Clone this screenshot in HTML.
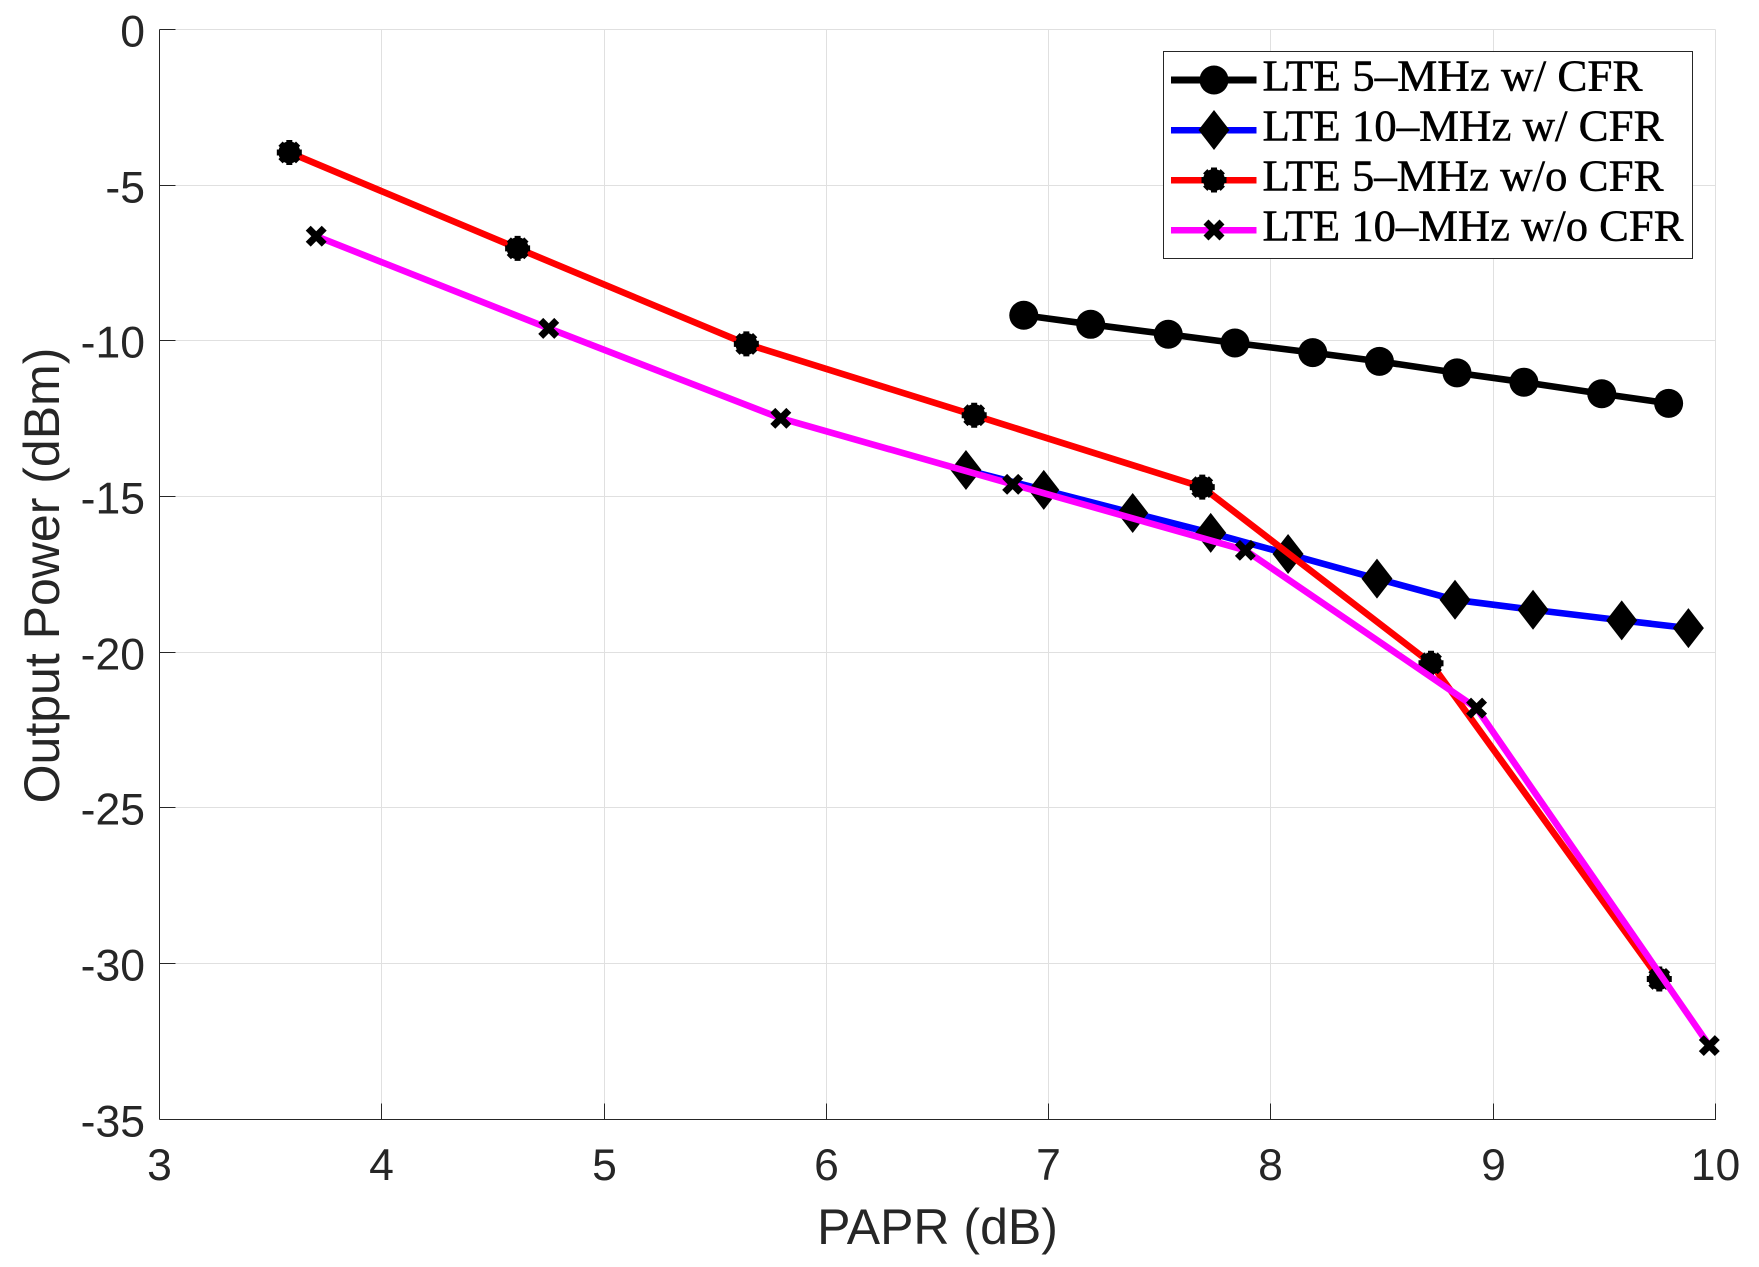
<!DOCTYPE html>
<html lang="en">
<head>
<meta charset="utf-8">
<title>Output Power vs PAPR</title>
<style>
  html, body { margin: 0; padding: 0; background: #fff; width: 1759px; height: 1267px; overflow: hidden; }
  svg { display: block; }
  text { font-family: "Liberation Sans", sans-serif; fill: #262626; }
  .tick-label { font-size: 44.5px; }
  .axis-title { font-size: 50px; }
  .legend-text { font-family: "Liberation Serif", serif; font-size: 44px; fill: #000; stroke: #000; stroke-width: 0.5px; }
</style>
</head>
<body>
<svg id="chart" xmlns="http://www.w3.org/2000/svg" width="1759" height="1267" viewBox="0 0 1759 1267"></svg>
<script>
const xTicks = [3, 4, 5, 6, 7, 8, 9, 10];
const yTicks = [0, -5, -10, -15, -20, -25, -30, -35];

const lte5CfrX = [6.888, 7.189, 7.538, 7.838, 8.188, 8.488, 8.837, 9.138, 9.488, 9.789];
const lte5CfrY = [-9.18, -9.47, -9.79, -10.07, -10.38, -10.66, -11.03, -11.33, -11.70, -12.01];

const lte10CfrX = [6.628, 6.978, 7.378, 7.729, 8.077, 8.477, 8.828, 9.179, 9.578, 9.878];
const lte10CfrY = [-14.15, -14.79, -15.53, -16.17, -16.85, -17.64, -18.32, -18.64, -18.98, -19.23];

const lte5NoCfrX = [3.584, 4.611, 5.640, 6.665, 7.691, 8.720, 9.747];
const lte5NoCfrY = [-3.95, -7.03, -10.10, -12.39, -14.70, -20.36, -30.50];

const lte10NoCfrX = [3.705, 4.751, 5.795, 6.838, 7.885, 8.925, 9.972];
const lte10NoCfrY = [-6.64, -9.60, -12.49, -14.61, -16.73, -21.80, -32.64];

const legendLabels = ["LTE 5\u2013MHz w/ CFR", "LTE 10\u2013MHz w/ CFR", "LTE 5\u2013MHz w/o CFR", "LTE 10\u2013MHz w/o CFR"];

const NS = "http://www.w3.org/2000/svg";
const svg = document.getElementById("chart");
const X0 = 159.5, XUNIT = 222.29, Y0 = 29.5, YUNIT = 31.13;
function xScale(v) { return X0 + (v - 3) * XUNIT; }
function yScale(v) { return Y0 - v * YUNIT; }
function crisp(p) { return Math.floor(p) + 0.5; }

function make(tag, parent, attrs) {
  const el = document.createElementNS(NS, tag);
  for (const k in attrs) el.setAttribute(k, attrs[k]);
  parent.appendChild(el);
  return el;
}

const left = xScale(3), right = crisp(xScale(10)), top_ = crisp(yScale(0)), bottom = crisp(yScale(-35));

/* grid */
const gridGroup = make("g", svg, { stroke: "#e0e0e0", "stroke-width": 1, "shape-rendering": "crispEdges" });


xTicks.forEach(function (t) {
  const px = crisp(xScale(t));
  const g = make("line", gridGroup, { x1: px, x2: px, y1: top_, y2: bottom });
  
  
});
yTicks.forEach(function (t) {
  const py = crisp(yScale(t));
  const g = make("line", gridGroup, { x1: left, x2: right, y1: py, y2: py });
  
  
});

/* axes */
const axisGroup = make("g", svg, { stroke: "#262626", "stroke-width": 1, "shape-rendering": "crispEdges" });


const xAxisLine = make("line", axisGroup, { x1: left, x2: right + 0.5, y1: bottom, y2: bottom });


const yAxisLine = make("line", axisGroup, { x1: left, x2: left, y1: top_, y2: bottom });



xTicks.forEach(function (t) {
  const px = crisp(xScale(t));
  const tick = make("line", axisGroup, { x1: px, x2: px, y1: bottom, y2: bottom - 16 });
  
  
  const label = make("text", svg, { class: "tick-label", x: px, y: 1180, "text-anchor": "middle" });
  
  
  label.textContent = String(t);
});
yTicks.forEach(function (t) {
  const py = crisp(yScale(t));
  const tick = make("line", axisGroup, { x1: left, x2: left + 16, y1: py, y2: py });
  
  
  const label = make("text", svg, { class: "tick-label", x: 145, y: py + 17, "text-anchor": "end" });
  
  
  label.textContent = String(t);
});

const xTitle = make("text", svg, { class: "axis-title", x: 937.5, y: 1244, "text-anchor": "middle" });


xTitle.textContent = "PAPR (dB)";

const yTitle = make("text", svg, { class: "axis-title", transform: "translate(59 575.5) rotate(-90)", x: 0, y: 0, "text-anchor": "middle" });


yTitle.textContent = "Output Power (dBm)";

/* markers */
function drawMarker(parent, kind, cx, cy) {
  const g = make("g", parent, { transform: "translate(" + cx + " " + cy + ")", fill: "#000", stroke: "none" });
  
  
  if (kind === "circle") {
    make("circle", g, { cx: 0, cy: 0, r: 14.5 });
  } else if (kind === "diamond") {
    make("path", g, { d: "M0 -20 L15.5 0 L0 20 L-15.5 0 Z" });
  } else if (kind === "star") {
    make("circle", g, { cx: 0, cy: 0, r: 11 });
    make("path", g, {
      d: "M-12.5 0 H12.5 M0 -12.5 V12.5 M-8.8 -8.8 L8.8 8.8 M-8.8 8.8 L8.8 -8.8",
      stroke: "#000", "stroke-width": 6, fill: "none"
    });
  } else {
    make("path", g, {
      d: "M-8 -8 L8 8 M-8 8 L8 -8",
      stroke: "#000", "stroke-width": 7, fill: "none"
    });
  }
}

function drawSeries(name, xs, ys, color, kind) {
  const g = make("g", svg, {});
  
  
  const pts = xs.map(function (x, i) { return xScale(x) + "," + yScale(ys[i]); }).join(" ");
  const line = make("polyline", g, { points: pts, fill: "none", stroke: color, "stroke-width": 6.6, "stroke-linejoin": "round", "stroke-linecap": "butt" });
  
  
  xs.forEach(function (x, i) {
    drawMarker(g, kind, xScale(x), yScale(ys[i]));
  });
}

drawSeries("series-lte-5mhz-cfr", lte5CfrX, lte5CfrY, "#000000", "circle");
drawSeries("series-lte-10mhz-cfr", lte10CfrX, lte10CfrY, "#0000ff", "diamond");
drawSeries("series-lte-5mhz-no-cfr", lte5NoCfrX, lte5NoCfrY, "#ff0000", "star");
drawSeries("series-lte-10mhz-no-cfr", lte10NoCfrX, lte10NoCfrY, "#ff00ff", "cross");

/* legend */
const legend = make("g", svg, {});


const legendBox = make("rect", legend, { x: 1163.5, y: 51.5, width: 529, height: 207, fill: "#fff", stroke: "#262626", "stroke-width": 1, "shape-rendering": "crispEdges" });



const legendColors = ["#000000", "#0000ff", "#ff0000", "#ff00ff"];
const legendKinds = ["circle", "diamond", "star", "cross"];
const legendWidths = [380, 401, 401, 421];
legendLabels.forEach(function (label, i) {
  const rowY = 80 + i * 50;
  const row = make("g", legend, {});
  
  
  const swatch = make("line", row, { x1: 1171, x2: 1256.6, y1: rowY, y2: rowY, stroke: legendColors[i], "stroke-width": i === 0 ? 7 : 6.5, "shape-rendering": "crispEdges" });
  
  
  drawMarker(row, legendKinds[i], 1214, rowY);
  const t = make("text", row, { class: "legend-text", x: 1262.5, y: rowY + 10.7, textLength: legendWidths[i], lengthAdjust: "spacingAndGlyphs" });
  
  
  t.textContent = label;
});
</script>
</body>
</html>
